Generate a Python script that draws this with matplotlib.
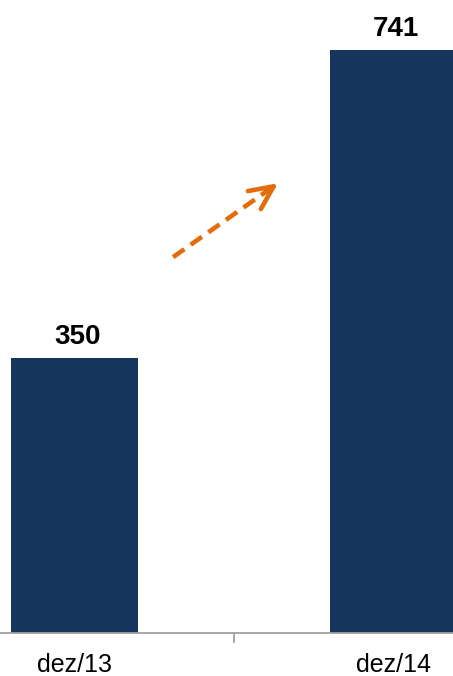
import matplotlib.pyplot as plt

periodos = ['dez/13', 'dez/14']
valores = [350, 741]

plt.rcParams['font.family'] = ['Liberation Sans', 'DejaVu Sans']

fig = plt.figure(figsize=(4.53, 6.76), dpi=100)
ax = fig.add_axes([0, 0.0636, 1, 0.9364])

x = range(len(periodos))
ax.bar(x, valores, width=0.398, color='#17365D')

# rótulos de valor acima das barras
for i, v in zip(x, valores):
    ax.text(i + 0.009, v + 18, str(v), ha='center', va='baseline',
            fontsize=20, fontweight='bold', color='black')

ax.set_xlim(-0.2335, 1.1865)
ax.set_ylim(0, 805)

# eixo x: só a linha de base e um tique entre as categorias
for s in ['top', 'right', 'left']:
    ax.spines[s].set_visible(False)
ax.spines['bottom'].set_color('#A0A0A0')
ax.spines['bottom'].set_linewidth(1.3)
ax.set_yticks([])
ax.set_xticks([0.5])
ax.set_xticklabels([''])
ax.tick_params(axis='x', length=7, width=1.3, color='#A0A0A0', direction='out')
for i, p in zip(x, periodos):
    ax.text(i, -49, p, ha='center', va='baseline', fontsize=18, color='black')

# seta tracejada de crescimento
laranja = '#E46C0A'
inicio = (0.309, 478)
fim = (0.638, 572)
ax.annotate('', xy=fim, xytext=inicio,
            arrowprops=dict(arrowstyle='-', color=laranja, lw=3.3,
                            linestyle=(0, (3, 1.7)), shrinkA=0, shrinkB=2,
                            capstyle='butt'))
ax.annotate('', xy=fim, xytext=(0.60, 561),
            arrowprops=dict(arrowstyle='->,head_length=1.0,head_width=0.47',
                            mutation_scale=17, color=laranja, lw=3.3,
                            shrinkA=0, shrinkB=0))

fig.savefig('out.png', dpi=100)
